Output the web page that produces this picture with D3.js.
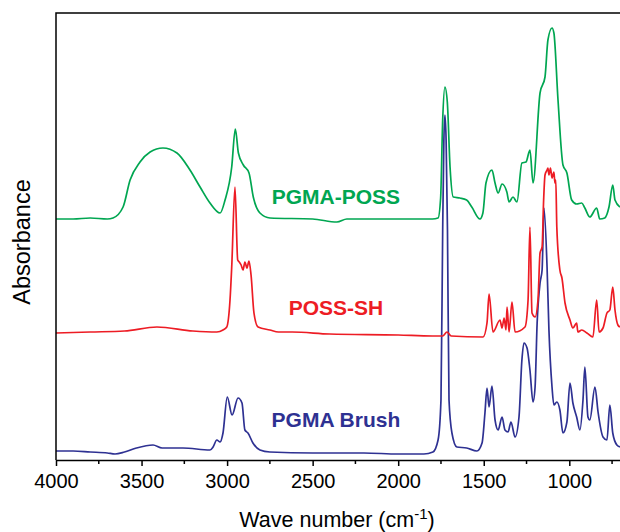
<!DOCTYPE html>
<html>
<head>
<meta charset="utf-8">
<script src="https://cdn.jsdelivr.net/npm/d3@7"></script>
<style>
  body { margin: 0; background: #fff; }
  svg { display: block; font-family: Arial, "Liberation Sans", sans-serif; }
</style>
</head>
<body>
<svg id="chart" width="620" height="532"></svg>
<script>
// FTIR spectra, absorbance in arbitrary units (curves are stacked with offsets)

// PGMA-POSS (green, top)
const greenWn = [4000, 3900, 3800, 3700, 3667, 3608, 3567, 3509, 3450, 3375, 3293, 3217, 3158, 3100, 3041, 3012, 2973, 2952, 2934, 2905, 2872, 2847, 2808, 2749, 2500, 2358, 2300, 2000, 1800, 1767, 1752, 1740, 1727, 1713, 1697, 1678, 1639, 1600, 1570, 1522, 1505, 1487, 1452, 1434, 1416, 1393, 1365, 1352, 1329, 1306, 1277, 1253, 1230, 1212, 1171, 1142, 1125, 1101, 1090, 1066, 1037, 1014, 986, 957, 927, 909, 880, 840, 822, 793, 768, 746, 733, 704];
const greenAbs = [241, 241, 242, 241, 242, 253, 280, 298, 308, 312, 307, 290, 273, 257, 247, 260, 293, 331, 307, 295, 287, 263, 247, 242, 241, 238, 241, 241, 241, 242, 262, 340, 373, 358, 293, 263, 262, 260, 253, 241, 247, 277, 290, 277, 267, 276, 268, 258, 263, 258, 297, 298, 310, 277, 367, 383, 420, 432, 427, 360, 295, 287, 260, 256, 257, 252, 243, 252, 241, 242, 253, 275, 260, 253];

// POSS-SH (red, middle)
const redWn = [4000, 3800, 3600, 3410, 3200, 3060, 3024, 3002, 2983, 2973, 2954, 2938, 2929, 2918, 2907, 2896, 2884, 2872, 2860, 2843, 2819, 2750, 2700, 2620, 2400, 2000, 1800, 1740, 1715, 1690, 1504, 1481, 1469, 1446, 1405, 1393, 1381, 1370, 1364, 1352, 1335, 1317, 1259, 1241, 1230, 1218, 1200, 1183, 1171, 1159, 1150, 1142, 1130, 1125, 1119, 1110, 1101, 1090, 1084, 1079, 1073, 1055, 1043, 1025, 996, 979, 957, 950, 927, 897, 862, 840, 826, 803, 780, 763, 746, 733, 716, 704];
const redAbs = [127, 128, 129, 133, 129, 128, 130, 133, 160, 193, 273, 200, 198, 195, 190, 198, 192, 199, 185, 147, 133, 130, 128, 128, 126, 125, 124, 124, 128, 124, 123, 137, 166, 128, 140, 132, 142, 130, 153, 128, 158, 128, 133, 160, 233, 147, 143, 160, 207, 213, 260, 285, 290, 292, 285, 292, 282, 288, 277, 280, 233, 190, 182, 157, 140, 132, 137, 128, 130, 127, 123, 160, 128, 132, 147, 150, 173, 150, 135, 133];

// PGMA Brush (blue, bottom)
const blueWn = [4000, 3900, 3800, 3700, 3655, 3600, 3530, 3433, 3380, 3258, 3100, 3082, 3060, 3041, 3024, 2999, 2971, 2936, 2913, 2896, 2878, 2849, 2808, 2750, 2500, 2200, 2000, 1850, 1797, 1767, 1750, 1740, 1733, 1727, 1720, 1712, 1703, 1686, 1657, 1600, 1540, 1510, 1493, 1481, 1469, 1452, 1434, 1416, 1393, 1376, 1358, 1341, 1317, 1294, 1277, 1265, 1247, 1230, 1212, 1200, 1188, 1171, 1159, 1148, 1130, 1119, 1101, 1090, 1073, 1055, 1037, 1014, 996, 979, 957, 938, 920, 909, 891, 880, 850, 832, 803, 780, 763, 746, 722, 704];
const blueAbs = [9, 9, 8, 7, 6, 8, 12, 15, 12, 12, 10, 13, 20, 18, 27, 63, 45, 62, 57, 30, 27, 17, 10, 8, 7, 7, 6, 6, 8, 20, 60, 230, 320, 345, 320, 230, 60, 27, 13, 12, 9, 17, 47, 72, 53, 74, 40, 30, 43, 30, 28, 38, 23, 43, 100, 117, 112, 90, 58, 73, 137, 177, 190, 252, 193, 130, 73, 55, 58, 50, 27, 38, 77, 57, 43, 30, 60, 93, 43, 40, 73, 48, 23, 20, 55, 27, 15, 13];

const seriesNames = ["PGMA-POSS", "POSS-SH", "PGMA Brush"];
const seriesColors = ["#00a651", "#ed1c24", "#2e3192"];
const labelPos = [[2364, 256], [2364, 145], [2364, 33]]; // [wavenumber, a.u.] of each label baseline

const majorTicks = [4000, 3500, 3000, 2500, 2000, 1500, 1000];
const minorTicks = [3750, 3250, 2750, 2250, 1750, 1250, 750];

const svg = d3.select("#chart");
const plotLeft = 56, plotTop = 13, plotBottom = 460;

// x axis runs high -> low wavenumber; the right edge is cut off by the window
const x = d3.scaleLinear().domain([4000, 400]).range([plotLeft, plotLeft + 3600 * 0.1711]);
const y = d3.scaleLinear().domain([0, 447]).range([plotBottom, plotTop]);

const series = [
  greenWn.map((w, i) => [w, greenAbs[i]]),
  redWn.map((w, i) => [w, redAbs[i]]),
  blueWn.map((w, i) => [w, blueAbs[i]])
];

const line = d3.line()
  .x(d => x(d[0]))
  .y(d => y(d[1]))
  .curve(d3.curveMonotoneX);

// draw blue first so green/red sit on top like the original
[2, 1, 0].forEach(i => {
  svg.append("path")
    .datum(series[i])
    .attr("d", line)
    .attr("fill", "none")
    .attr("stroke", seriesColors[i])
    .attr("stroke-width", 1.7)
    .attr("stroke-linejoin", "round");
});

// frame (left + top lines; bottom is the axis)
svg.append("path")
  .attr("d", `M${plotLeft},${plotBottom}V${plotTop}H${x(400)}`)
  .attr("fill", "none")
  .attr("stroke", "#000")
  .attr("stroke-width", 1.5);

// bottom axis
const xAxis = svg.append("g")
  .attr("transform", `translate(0,${plotBottom})`)
  .call(d3.axisBottom(x).tickValues(majorTicks).tickFormat(d3.format("d"))
    .tickSize(6).tickSizeOuter(0).tickPadding(8));
xAxis.select(".domain").attr("stroke-width", 1.5);
xAxis.selectAll(".tick line").attr("stroke-width", 1.5);
xAxis.selectAll(".tick text")
  .attr("font-size", 20)
  .attr("fill", "#000")
  .attr("font-family", "Arial, 'Liberation Sans', sans-serif");

svg.append("g")
  .attr("transform", `translate(0,${plotBottom})`)
  .selectAll("line")
  .data(minorTicks)
  .join("line")
  .attr("x1", d => x(d)).attr("x2", d => x(d))
  .attr("y1", 0).attr("y2", 4)
  .attr("stroke", "#000")
  .attr("stroke-width", 1.5);

// axis titles
const xTitle = svg.append("text")
  .attr("x", 337)
  .attr("y", 527)
  .attr("text-anchor", "middle")
  .attr("font-size", 21.5)
  .attr("fill", "#000");
xTitle.append("tspan").text("Wave number (cm");
xTitle.append("tspan").attr("font-size", 15).attr("dy", -8).text("-1");
xTitle.append("tspan").attr("dy", 8).text(")");

svg.append("text")
  .attr("transform", "translate(30,242) rotate(-90)")
  .attr("text-anchor", "middle")
  .attr("font-size", 23.5)
  .attr("fill", "#000")
  .text("Absorbance");

// curve labels
svg.selectAll(".series-label")
  .data(seriesNames)
  .join("text")
  .attr("class", "series-label")
  .attr("x", (d, i) => x(labelPos[i][0]))
  .attr("y", (d, i) => y(labelPos[i][1]))
  .attr("text-anchor", "middle")
  .attr("font-size", 21)
  .attr("font-weight", "bold")
  .attr("fill", (d, i) => seriesColors[i])
  .text(d => d);
</script>
</body>
</html>
